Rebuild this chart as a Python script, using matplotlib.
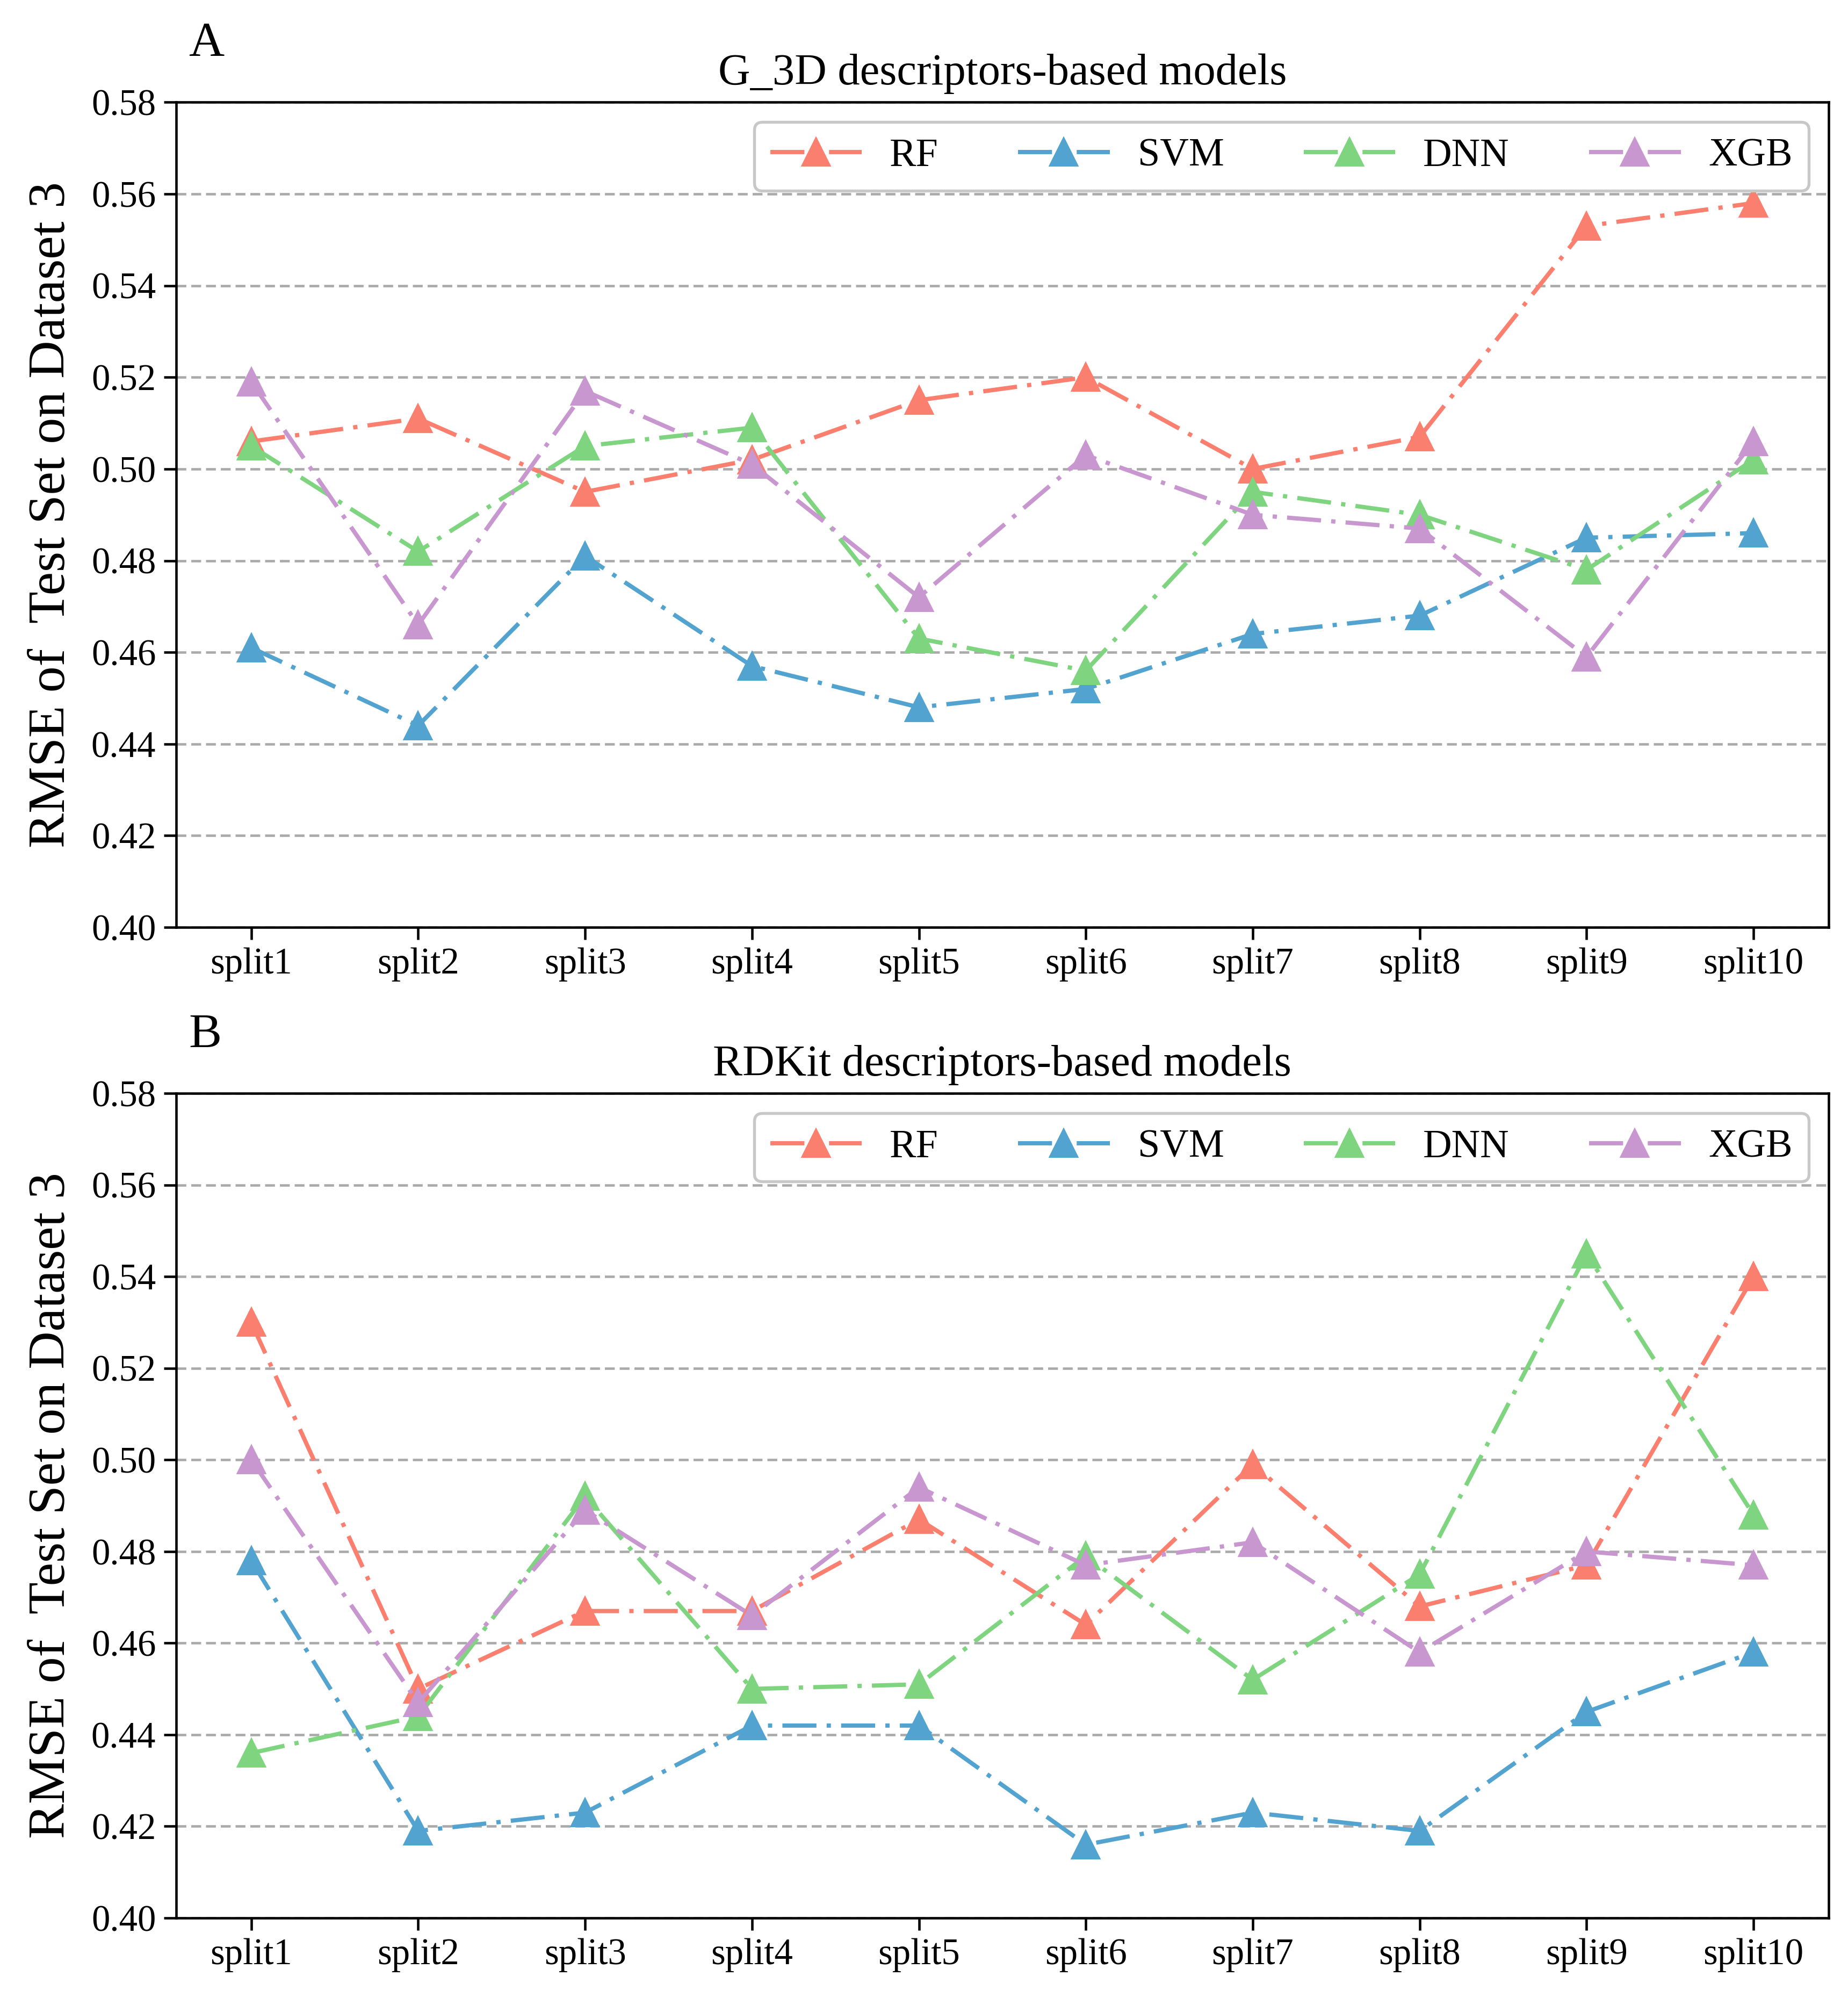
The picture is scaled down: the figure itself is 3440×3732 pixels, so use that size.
import numpy as np
import matplotlib
matplotlib.use('Agg')
import matplotlib.pyplot as plt

# RMSE values (Dataset 3 test set)
splits = ['split1', 'split2', 'split3', 'split4', 'split5',
          'split6', 'split7', 'split8', 'split9', 'split10']
models = ['RF', 'SVM', 'DNN', 'XGB']

g3d_rf = [0.506, 0.511, 0.495, 0.502, 0.515, 0.520, 0.500, 0.507, 0.553, 0.558]
g3d_svm = [0.461, 0.444, 0.481, 0.457, 0.448, 0.452, 0.464, 0.468, 0.485, 0.486]
g3d_dnn = [0.505, 0.482, 0.505, 0.509, 0.463, 0.456, 0.495, 0.490, 0.478, 0.502]
g3d_xgb = [0.519, 0.466, 0.517, 0.501, 0.472, 0.503, 0.490, 0.487, 0.459, 0.506]

rdkit_rf = [0.530, 0.450, 0.467, 0.467, 0.487, 0.464, 0.499, 0.468, 0.477, 0.540]
rdkit_svm = [0.478, 0.419, 0.423, 0.442, 0.442, 0.416, 0.423, 0.419, 0.445, 0.458]
rdkit_dnn = [0.436, 0.444, 0.492, 0.450, 0.451, 0.479, 0.452, 0.475, 0.545, 0.488]
rdkit_xgb = [0.500, 0.447, 0.489, 0.466, 0.494, 0.477, 0.482, 0.458, 0.480, 0.477]

yticks = [0.40, 0.42, 0.44, 0.46, 0.48, 0.50, 0.52, 0.54, 0.56, 0.58]

COLORS = {'RF': '#FA7F6F', 'SVM': '#52A3CF', 'DNN': '#7FD47F', 'XGB': '#C897CF'}

plt.rcParams.update({
    'font.family': ['Liberation Serif', 'DejaVu Serif'],
})

fig = plt.figure(figsize=(3440 / 300, 3732 / 300), dpi=300)
ax_a = fig.add_axes([0.0953, 0.5375, 0.8942, 0.4115])
ax_b = fig.add_axes([0.0953, 0.0434, 0.8942, 0.4113])

panels = [
    (ax_a, 'G_3D descriptors-based models', [g3d_rf, g3d_svm, g3d_dnn, g3d_xgb]),
    (ax_b, 'RDKit descriptors-based models', [rdkit_rf, rdkit_svm, rdkit_dnn, rdkit_xgb]),
]

x = np.arange(len(splits))

for ax, title, series in panels:
    for name, values in zip(models, series):
        ax.plot(x, values, color=COLORS[name], linestyle=(0, (8.0, 2.4, 1.0, 2.4)),
                linewidth=1.9, marker='^', markersize=12, label=name)

    ax.set_xlim(-0.45, 9.45)
    ax.set_ylim(0.40, 0.58)
    ax.set_yticks(yticks)
    ax.set_yticklabels([f'{t:.2f}' for t in yticks])
    ax.set_xticks(x)
    ax.set_xticklabels(splits)
    ax.tick_params(axis='both', labelsize=16.5, length=5.5, width=1.1, direction='out')
    for spine in ax.spines.values():
        spine.set_linewidth(1.1)

    ax.yaxis.grid(True, color='#AAAAAA', linestyle=(0, (4.0, 2.0)), linewidth=1.1)
    ax.set_axisbelow(True)

    ax.set_title(title, fontsize=19.8, pad=8)
    ax.set_ylabel('RMSE of  Test Set on Dataset 3', fontsize=23.4, labelpad=7)

    leg = ax.legend(loc='upper right', ncol=4, fontsize=17.8, frameon=True,
                    fancybox=True, edgecolor='#C8C8C8', framealpha=1,
                    handlelength=2.3, handletextpad=0.7, columnspacing=2.0,
                    borderaxespad=0.5, numpoints=1)
    leg.get_frame().set_linewidth(1.3)

fig.text(0.102, 0.972, 'A', fontsize=22)
fig.text(0.102, 0.4775, 'B', fontsize=22)

fig.savefig('out.png', dpi=300)
